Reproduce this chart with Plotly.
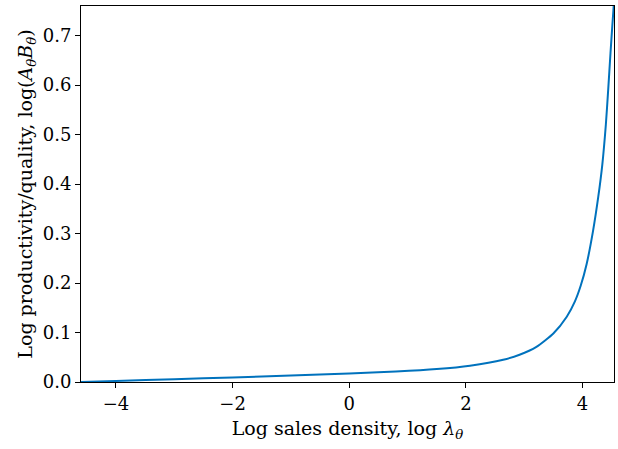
import plotly.graph_objects as go

log_lambda = [-4.6, -4.0, -3.0, -2.0, -1.0, 0.0, 0.8, 1.5, 2.07, 2.64, 2.92, 3.21, 3.50,
              3.73, 3.87, 3.97, 4.07, 4.18, 4.27, 4.34, 4.40, 4.44, 4.48, 4.51, 4.535]
log_AB = [0.0, 0.0022, 0.0058, 0.0093, 0.0132, 0.0172, 0.0212, 0.0262, 0.033, 0.045, 0.055,
          0.071, 0.098, 0.132, 0.163, 0.195, 0.238, 0.305, 0.374, 0.44, 0.52, 0.59, 0.665,
          0.718, 0.76]

x_ticks = [-4, -2, 0, 2, 4]
y_ticks = [0.0, 0.1, 0.2, 0.3, 0.4, 0.5, 0.6, 0.7]

fig = go.Figure(go.Scatter(x=log_lambda, y=log_AB, mode="lines",
                           line=dict(color="#0072BD", width=2, shape="spline", smoothing=0.6)))

font_family = "DejaVu Serif, serif"
axis_common = dict(showgrid=False, zeroline=False, showline=True, linecolor="black", linewidth=1,
                   mirror=True, ticks="outside", ticklen=5, tickwidth=1, tickcolor="black",
                   tickfont=dict(family=font_family, size=18, color="black"))

fig.update_layout(
    width=618, height=449,
    margin=dict(l=81, r=4, t=6, b=67),
    plot_bgcolor="white", paper_bgcolor="white",
    showlegend=False,
    font=dict(family=font_family, size=18, color="black"),
    xaxis=dict(range=[-4.6, 4.54], tickvals=x_ticks, ticktext=["−4", "−2", "0", "2", "4"],
               title=dict(text="Log sales density, log <i>λ</i><sub><i>θ</i></sub>",
                          font=dict(family=font_family, size=19), standoff=9),
               **axis_common),
    yaxis=dict(range=[0, 0.76], tickvals=y_ticks, tickformat=".1f",
               title=dict(text="Log productivity/quality, log(<i>A</i><sub><i>θ</i></sub><i>B</i><sub><i>θ</i></sub>)",
                          font=dict(family=font_family, size=19), standoff=5),
               **axis_common),
)

fig.write_html("out.html")
